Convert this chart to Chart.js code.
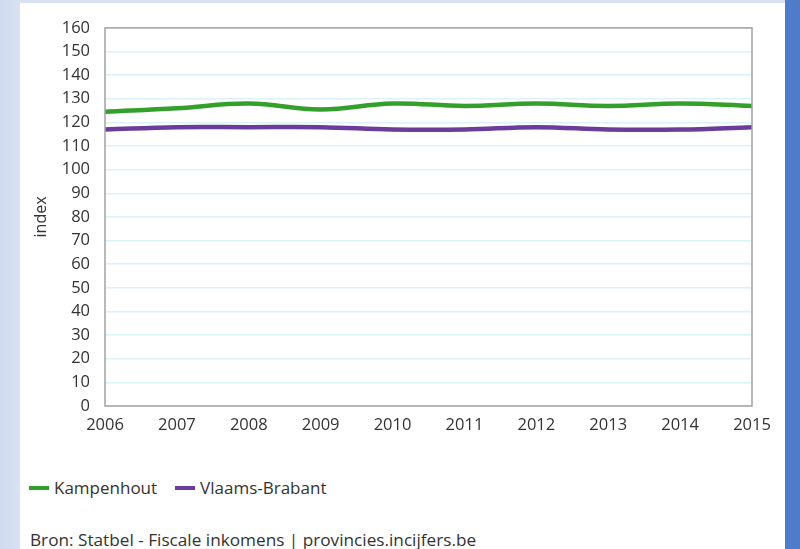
<!DOCTYPE html>
<html><head><meta charset="utf-8">
<script src="https://cdn.jsdelivr.net/npm/chart.js@4"></script>
<style>
html,body{margin:0;padding:0;width:800px;height:549px;overflow:hidden;font-family:"Open Sans",sans-serif;}
body{background:linear-gradient(90deg,#cfdaf0 0px,#d8e2f3 20px,#d8e2f3 785px,#4f7cca 785px,#4f7cca 800px);position:relative;}
#panel{position:absolute;left:20px;top:3px;width:765px;height:546px;background:#fff;}
#wrap{position:absolute;left:0;top:0;width:765px;height:440px;}
#legend{position:absolute;left:9px;top:473px;font-size:17px;color:#333;display:flex;gap:0;white-space:nowrap;}
.item{display:flex;align-items:center;margin-right:18px;}
.swatch{display:inline-block;width:20px;height:4px;margin-right:5px;}
#source{position:absolute;left:10px;top:525px;font-size:17.2px;color:#333;white-space:nowrap;}
</style></head>
<body>
<div id="panel">
  <div id="wrap"><canvas id="c"></canvas></div>
  <div id="legend"></div>
  <div id="source">Bron: Statbel - Fiscale inkomens | provincies.incijfers.be</div>
</div>
<script>
const years = ["2006","2007","2008","2009","2010","2011","2012","2013","2014","2015"];
const kampenhout = [124.5, 126, 128, 125.5, 128, 127, 128, 127, 128, 127];
const vlaamsBrabant = [117, 118, 118, 118, 117, 117, 118, 117, 117, 118];
const seriesNames = ["Kampenhout", "Vlaams-Brabant"];
const seriesColors = ["#33a02c", "#6a3d9a"];
const yMin = 0, yMax = 160, yStep = 10;
const yTitle = "index";

const boxPlugin = {
  id: 'box',
  afterDraw(chart) {
    const {ctx, chartArea: a} = chart;
    ctx.save();
    ctx.strokeStyle = '#a3a3a3';
    ctx.lineWidth = 1.5;
    ctx.strokeRect(a.left, a.top, a.right - a.left, a.bottom - a.top);
    ctx.restore();
  }
};

const tickFont = {family: "Open Sans", size: 16.5};
new Chart(document.getElementById('c'), {
  type: 'line',
  data: {
    labels: years,
    datasets: [
      {label: seriesNames[0], data: kampenhout, borderColor: seriesColors[0], backgroundColor: seriesColors[0]},
      {label: seriesNames[1], data: vlaamsBrabant, borderColor: seriesColors[1], backgroundColor: seriesColors[1]}
    ].map(d => Object.assign(d, {borderWidth: 4.5, pointRadius: 0, tension: 0.4, fill: false}))
  },
  options: {
    responsive: true,
    maintainAspectRatio: false,
    animation: false,
    layout: {padding: {top: 23, right: 33, bottom: 0, left: 0}},
    plugins: {legend: {display: false}, tooltip: {enabled: false}},
    scales: {
      x: {
        offset: false,
        grid: {display: false, drawTicks: false},
        border: {display: false},
        ticks: {color: '#333', font: tickFont, padding: 9, maxRotation: 0, autoSkip: false},
        afterFit(s) { s.height = 37; }
      },
      y: {
        min: yMin, max: yMax,
        grid: {color: '#ddf1f9', lineWidth: 1.5, drawTicks: false},
        border: {display: false},
        ticks: {stepSize: yStep, color: '#333', font: tickFont, padding: 15},
        title: {display: true, text: yTitle, color: '#333', font: {family: "Open Sans", size: 16}, padding: {top: 12, bottom: 0}},
        afterFit(s) { s.width = 85; }
      }
    }
  },
  plugins: [boxPlugin]
});

const legend = document.getElementById('legend');
seriesNames.forEach((n, i) => {
  const it = document.createElement('span'); it.className = 'item';
  const sw = document.createElement('span'); sw.className = 'swatch'; sw.style.background = seriesColors[i];
  it.appendChild(sw); it.appendChild(document.createTextNode(n));
  legend.appendChild(it);
});
</script>
</body></html>
